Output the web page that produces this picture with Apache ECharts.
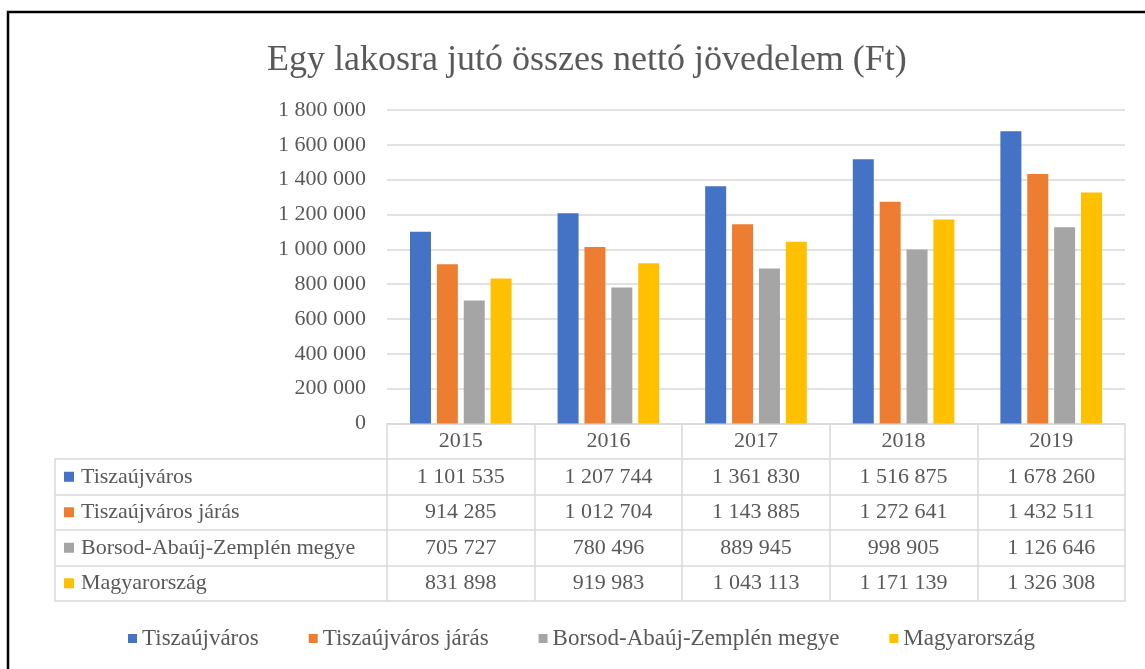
<!DOCTYPE html>
<html>
<head>
<meta charset="utf-8">
<script src="https://cdn.jsdelivr.net/npm/echarts@6/dist/echarts.min.js"></script>
<style>
  html, body { margin: 0; padding: 0; background: #fff; }
  #chart { width: 1145px; height: 669px; }
</style>
</head>
<body>
<div id="chart"></div>
<script>
const years = ['2015', '2016', '2017', '2018', '2019'];
const seriesNames = ['Tiszaújváros', 'Tiszaújváros járás', 'Borsod-Abaúj-Zemplén megye', 'Magyarország'];
const tiszaujvaros = [1101535, 1207744, 1361830, 1516875, 1678260];
const tiszaujvarosJaras = [914285, 1012704, 1143885, 1272641, 1432511];
const borsod = [705727, 780496, 889945, 998905, 1126646];
const magyarorszag = [831898, 919983, 1043113, 1171139, 1326308];
const colors = ['#4472C4', '#ED7D31', '#A5A5A5', '#FFC000'];

const values = [tiszaujvaros, tiszaujvarosJaras, borsod, magyarorszag];

const FONT = '"Liberation Serif", "Times New Roman", serif';
const TEXT = '#595959';
const LINE = '#d9d9d9';
const ROW = 35.5;

// thousands with a space, like the Hungarian Excel format
function fmt(v) {
  return String(v).replace(/\B(?=(\d{3})+(?!\d))/g, ' ');
}

// one category axis per table row, stacked under the plot
function tableAxis(labels, offset, showLabel, tick) {
  return {
    type: 'category',
    gridIndex: 0,
    position: 'bottom',
    offset: offset,
    data: labels,
    axisLine: { show: true, lineStyle: { color: LINE, width: 1.5 } },
    axisTick: { show: tick, interval: 0, length: ROW, lineStyle: { color: LINE, width: 1.5 } },
    axisLabel: {
      show: showLabel, interval: 0, margin: 7,
      fontFamily: FONT, fontSize: 22, color: TEXT
    },
    splitLine: { show: false }
  };
}

const xAxes = [tableAxis(years, 0, true, true)];
values.forEach((vals, i) => {
  xAxes.push(tableAxis(vals.map(fmt), ROW * (i + 1), true, true));
});
xAxes.push(tableAxis(years, ROW * 5, false, false));
xAxes.push({ type: 'value', gridIndex: 1, show: false });

const rich = {};
colors.forEach((c, i) => {
  rich['sq' + i] = { width: 10, height: 10, backgroundColor: c };
});
rich.t = { fontFamily: FONT, fontSize: 22, color: TEXT, padding: [0, 0, 0, 7] };

const option = {
  backgroundColor: '#fff',
  animation: false,
  color: colors,
  title: {
    text: 'Egy lakosra jutó összes nettó jövedelem (Ft)',
    left: 262,
    top: 38,
    textStyle: { fontFamily: FONT, fontSize: 36, fontWeight: 'normal', color: TEXT }
  },
  legend: {
    data: seriesNames,
    left: 123,
    top: 622,
    icon: 'rect',
    itemWidth: 9,
    itemHeight: 9,
    itemGap: 50,
    textStyle: { fontFamily: FONT, fontSize: 23, color: TEXT }
  },
  grid: [
    { left: 387, right: 20, top: 110, height: 313.5 },
    { left: 55, top: 110 + 313.5 + ROW, width: 332, height: ROW * 4 }
  ],
  xAxis: xAxes,
  yAxis: [
    {
      type: 'value',
      gridIndex: 0,
      min: 0,
      max: 1800000,
      interval: 200000,
      axisLine: { show: false },
      axisTick: { show: false },
      axisLabel: { margin: 21, fontFamily: FONT, fontSize: 22, color: TEXT, formatter: fmt },
      splitLine: { lineStyle: { color: LINE, width: 1.5 } }
    },
    {
      type: 'category',
      gridIndex: 1,
      inverse: true,
      data: seriesNames,
      axisLine: { show: true, lineStyle: { color: LINE, width: 1.5 } },
      axisTick: { show: false },
      splitLine: { show: true, interval: 0, lineStyle: { color: LINE, width: 1.5 } },
      axisLabel: {
        inside: true,
        margin: 9,
        interval: 0,
        formatter: (name, idx) => '{sq' + idx + '|}{t|' + name + '}',
        rich: rich
      }
    }
  ],
  series: values.map((vals, i) => ({
    name: seriesNames[i],
    type: 'bar',
    xAxisIndex: 0,
    yAxisIndex: 0,
    barWidth: 21,
    barGap: '28%',
    data: vals
  })),
  graphic: [
    {
      type: 'rect',
      shape: { x: 8, y: 12, width: 1200, height: 700 },
      style: { fill: 'none', stroke: '#000', lineWidth: 2.5 },
      silent: true
    }
  ]
};

const chart = echarts.init(document.getElementById('chart'));
chart.setOption(option);
</script>
</body>
</html>
